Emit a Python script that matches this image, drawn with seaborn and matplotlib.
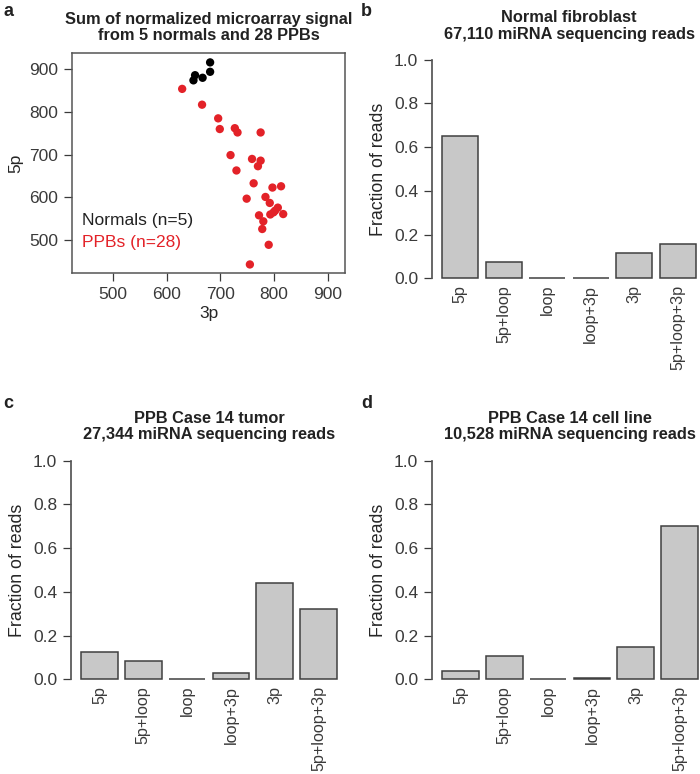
import matplotlib
matplotlib.use("Agg")
import matplotlib.pyplot as plt
import pandas as pd
import seaborn as sns

# ---- data ----
normal_3p = [681, 681, 667, 653, 650]
normal_5p = [916, 894, 880, 886, 874]
ppb_3p = [629, 666, 696, 699, 727, 732, 775, 719, 759, 775, 770, 730,
          762, 797, 813, 749, 784, 792, 807, 802, 799, 793, 817, 772, 780, 778, 790, 755]
ppb_5p = [854, 817, 785, 760, 762, 752, 752, 699, 690, 686, 673, 663,
          633, 623, 626, 597, 601, 587, 576, 569, 565, 560, 561, 558, 544, 526, 489, 443]

categories = ['5p', '5p+loop', 'loop', 'loop+3p', '3p', '5p+loop+3p']
fibroblast = [0.649, 0.075, 0.001, 0.003, 0.115, 0.157]
tumor = [0.125, 0.083, 0.001, 0.030, 0.440, 0.321]
cell_line = [0.037, 0.106, 0.001, 0.005, 0.149, 0.702]

RED = '#e32228'
GREY = '#c8c8c8'
DARK = '#3a3a3a'
TICK_FS = 12.5
TITLE_FS = 11.8

sns.set_theme(style="ticks")
plt.rcParams['font.family'] = ['Liberation Sans', 'DejaVu Sans']
plt.rcParams['axes.edgecolor'] = DARK
plt.rcParams['xtick.color'] = DARK
plt.rcParams['ytick.color'] = DARK
plt.rcParams['text.color'] = '#222222'

W, H = 700, 774
fig = plt.figure(figsize=(7, 7.74), dpi=100)


def ax_px(l, t, r, b):
    return fig.add_axes([l / W, 1 - b / H, (r - l) / W, (b - t) / H])


# ==========================================
# a: scatter
# ==========================================
scatter_df = pd.DataFrame({
    '3p': normal_3p + ppb_3p,
    '5p': normal_5p + ppb_5p,
    'group': ['Normals'] * len(normal_3p) + ['PPBs'] * len(ppb_3p),
})
ax = ax_px(72, 53, 345, 273)
sns.scatterplot(data=scatter_df, x='3p', y='5p', hue='group',
                palette={'Normals': 'black', 'PPBs': RED},
                s=36, linewidth=0, legend=False, ax=ax)
ax.set_xlim(424, 932)
ax.set_ylim(423, 938)
ax.set_xticks([500, 600, 700, 800, 900])
ax.set_yticks([500, 600, 700, 800, 900])
ax.tick_params(labelsize=TICK_FS, length=6, width=0.9, colors=DARK, pad=4)
for s in ax.spines.values():
    s.set_color('#555555')
    s.set_linewidth(1.1)
ax.set_xlabel('3p', fontsize=TICK_FS, labelpad=3)
ax.set_ylabel('5p', fontsize=TICK_FS, labelpad=4)
ax.set_title('Sum of normalized microarray signal\nfrom 5 normals and 28 PPBs',
             fontsize=TITLE_FS, fontweight='bold', pad=9, linespacing=1.1)
ax.text(0.035, 0.24, 'Normals (n=5)', transform=ax.transAxes, fontsize=TICK_FS,
        color='#222222', va='center')
ax.text(0.035, 0.14, 'PPBs (n=28)', transform=ax.transAxes, fontsize=TICK_FS,
        color=RED, va='center')


# ==========================================
# b, c, d: bar charts
# ==========================================
def bar_panel(box, values, title):
    ax = ax_px(*box)
    bar_df = pd.DataFrame({'part': categories, 'frac': values})
    sns.barplot(data=bar_df, x='part', y='frac', color=GREY, width=1 / 1.2,
                edgecolor='#404040', linewidth=1.1, saturation=1, ax=ax)
    ax.set_xlim(-0.65, 5.65)
    ax.set_ylim(-0.04, 1.04)
    ax.set_yticks([0, 0.2, 0.4, 0.6, 0.8, 1.0])
    ax.set_yticklabels(['0.0', '0.2', '0.4', '0.6', '0.8', '1.0'])
    ax.tick_params(axis='y', labelsize=TICK_FS, length=6, width=0.9, pad=4)
    ax.tick_params(axis='x', labelsize=11.6, length=0, pad=-1.5, labelrotation=90)
    for side in ['top', 'right', 'bottom']:
        ax.spines[side].set_visible(False)
    ax.spines['left'].set_bounds(0, 1)
    ax.spines['left'].set_color('#555555')
    ax.set_xlabel('')
    ax.set_ylabel('Fraction of reads', fontsize=12.8, labelpad=5)
    ax.set_title(title, fontsize=TITLE_FS, fontweight='bold', pad=9, linespacing=1.1)
    return ax


bar_panel((432, 51, 706, 287), fibroblast,
          'Normal fibroblast\n67,110 miRNA sequencing reads')
bar_panel((71, 452, 347, 688), tumor,
          'PPB Case 14 tumor\n27,344 miRNA sequencing reads')
bar_panel((432, 452, 708, 688), cell_line,
          'PPB Case 14 cell line\n10,528 miRNA sequencing reads')

# panel letters
for letter, x, y in [('a', 3, 12), ('b', 361, 12), ('c', 3, 404), ('d', 361, 404)]:
    fig.text(x / W, 1 - y / H, letter, fontsize=13, fontweight='bold', va='center')

fig.savefig('out.png', dpi=100)
